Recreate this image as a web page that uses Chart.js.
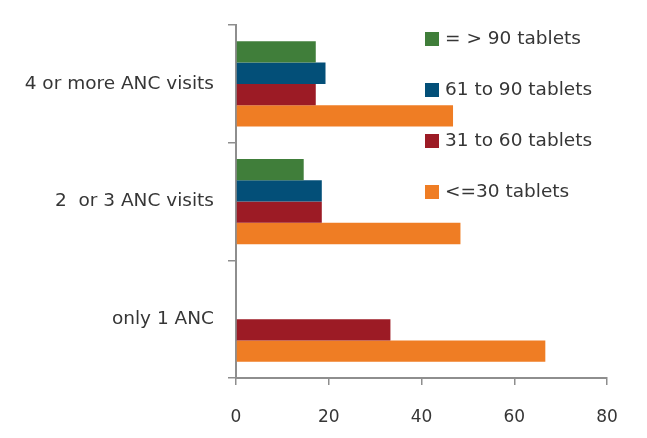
<!DOCTYPE html>
<html>
<head>
<meta charset="utf-8">
<script src="https://cdn.jsdelivr.net/npm/chart.js@4"></script>
<style>
  html, body { margin: 0; padding: 0; background: #ffffff; }
  #wrap { width: 647px; height: 438px; position: relative; }
</style>
</head>
<body>
<div id="wrap"><canvas id="tabletChart"></canvas></div>
<script>
// categories, top to bottom
const ancVisits = ["4 or more ANC visits", "2  or 3 ANC visits", "only 1 ANC"];

// percent of women per tablet group
const over90Tablets = [17.2, 14.6, null];
const tablets61to90 = [19.3, 18.5, null];
const tablets31to60 = [17.2, 18.5, 33.3];
const upTo30Tablets = [46.8, 48.4, 66.7];

const xTicks = [0, 20, 40, 60, 80];

const seriesNames = ["= > 90 tablets", "61 to 90 tablets", "31 to 60 tablets", "<=30 tablets"];
const seriesColors = ["#407e3a", "#034f78", "#9c1b25", "#ef7d24"];

const fontFamily = "'DejaVu Sans', sans-serif";
const textColor = "#363636";
const axisColor = "#8e8e8e";

// legend drawn inside the plot, on the right
const sideLegend = {
    id: "sideLegend",
    afterDraw(chart) {
        const ctx = chart.ctx;
        ctx.save();
        ctx.font = "18.5px " + fontFamily;
        ctx.textBaseline = "middle";
        chart.data.datasets.forEach((ds, i) => {
            const y = 39 + i * 51;
            ctx.fillStyle = ds.backgroundColor;
            ctx.fillRect(425, y - 7, 14, 14);
            ctx.fillStyle = textColor;
            ctx.fillText(ds.label, 445, y);
        });
        ctx.restore();
    }
};

const datasets = [over90Tablets, tablets61to90, tablets31to60, upTo30Tablets].map((values, i) => ({
    label: seriesNames[i],
    data: values,
    backgroundColor: seriesColors[i],
    borderWidth: 0,
    categoryPercentage: 0.725,
    barPercentage: 1
}));

new Chart(document.getElementById("tabletChart"), {
    type: "bar",
    data: {
        labels: ancVisits,
        datasets: datasets
    },
    plugins: [sideLegend],
    options: {
        indexAxis: "y",
        responsive: true,
        maintainAspectRatio: false,
        animation: false,
        layout: {
            padding: { top: 18, right: 40, left: 0, bottom: 0 }
        },
        plugins: {
            legend: { display: false },
            tooltip: { enabled: false }
        },
        scales: {
            x: {
                min: 0,
                max: 80,
                afterBuildTicks: axis => {
                    axis.ticks = xTicks.map(v => ({ value: v }));
                },
                afterFit: axis => { axis.height = 60; },
                grid: {
                    drawOnChartArea: false,
                    drawTicks: true,
                    tickLength: 7,
                    color: axisColor,
                    lineWidth: 1.5
                },
                border: { color: axisColor, width: 2 },
                ticks: {
                    padding: 22,
                    color: textColor,
                    font: { family: fontFamily, size: 17 }
                }
            },
            y: {
                afterFit: axis => { axis.width = 236; },
                grid: {
                    offset: true,
                    drawOnChartArea: false,
                    drawTicks: true,
                    tickLength: 8,
                    color: axisColor,
                    lineWidth: 1.5
                },
                border: { color: axisColor, width: 2 },
                ticks: {
                    padding: 14,
                    color: textColor,
                    font: { family: fontFamily, size: 18.5 }
                }
            }
        }
    }
});
</script>
</body>
</html>
